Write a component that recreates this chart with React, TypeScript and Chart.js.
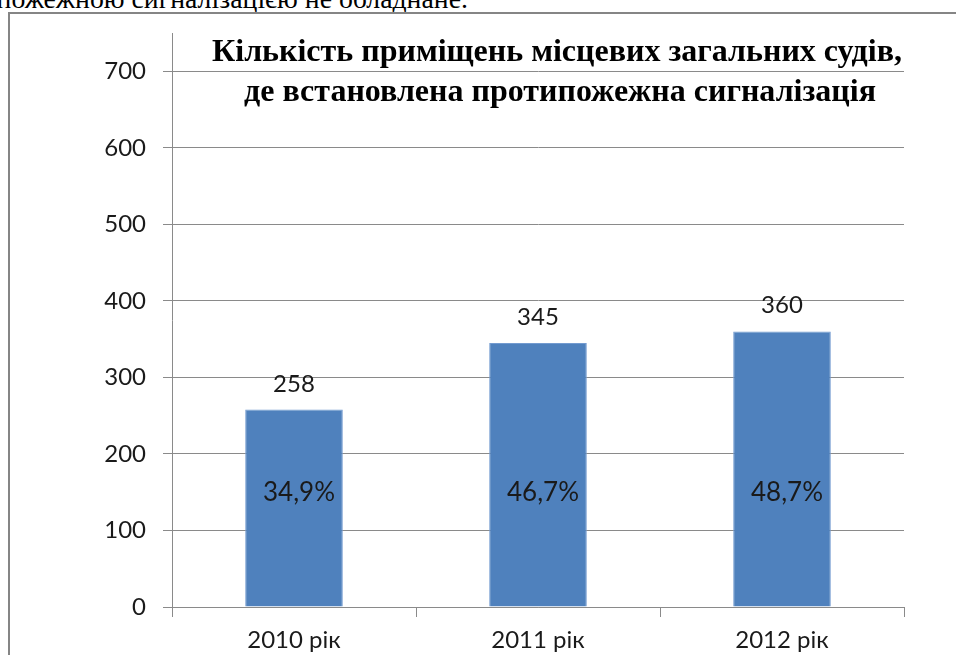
import React, { useEffect, useRef } from 'react';
import { Chart, registerables } from 'chart.js';

Chart.register(...registerables);

const categories = ['2010 рік', '2011 рік', '2012 рік'];
const counts = [258, 345, 360];
const shares = ['34,9%', '46,7%', '48,7%'];
const titleLines = [
  'Кількість приміщень місцевих загальних судів,',
  'де встановлена протипожежна сигналізація',
];
const pageText = 'пожежною сигналізацією не обладнане.';
const yMin = 0;
const yMax = 750;
const yStep = 100;
const shareLabelAt = 139;

const BAR_COLOR = '#4F81BD';
const GRID_COLOR = '#8a8a8a';
const TEXT_COLOR = '#1a1a1a';

const labelPlugin = {
  id: 'customLabels',
  afterDatasetsDraw(chart: any) {
    const { ctx } = chart;
    const meta = chart.getDatasetMeta(0);
    const yScale = chart.scales.y;
    ctx.save();
    ctx.fillStyle = TEXT_COLOR;
    ctx.textAlign = 'center';
    ctx.textBaseline = 'alphabetic';
    meta.data.forEach((bar: any, i: number) => {
      ctx.font = '24px Lato';
      ctx.fillText(String(counts[i]), bar.x, bar.y - 18);
      ctx.font = '26px Lato';
      ctx.fillText(shares[i], bar.x + 5, yScale.getPixelForValue(shareLabelAt));
    });
    ctx.fillStyle = '#000';
    ctx.font = 'bold 32px "Liberation Serif"';
    ctx.fillText(titleLines[0], 557, 61);
    ctx.fillText(titleLines[1], 560, 101);
    ctx.restore();
  },
};

export default function App() {
  const ref = useRef<HTMLCanvasElement>(null);

  useEffect(() => {
    if (!ref.current) return;
    const chart = new Chart(ref.current, {
      type: 'bar',
      data: {
        labels: categories,
        datasets: [
          {
            data: counts,
            backgroundColor: BAR_COLOR,
            borderColor: '#739bd0',
            borderWidth: 1,
            categoryPercentage: 1,
            barPercentage: 0.4,
          },
        ],
      },
      options: {
        animation: false,
        responsive: false,
        maintainAspectRatio: false,
        layout: { padding: { left: 8, right: 52, top: 33, bottom: 0 } },
        plugins: {
          legend: { display: false },
          tooltip: { enabled: false },
          title: { display: false },
        },
        scales: {
          x: {
            grid: {
              display: true,
              offset: true,
              drawOnChartArea: false,
              drawTicks: true,
              tickLength: 10,
              color: GRID_COLOR,
            },
            border: { display: true, color: GRID_COLOR, width: 1 },
            ticks: {
              color: TEXT_COLOR,
              font: { family: 'Lato', size: 24 },
              padding: 9,
            },
            afterFit: (s: any) => {
              s.height = 48;
            },
          },
          y: {
            min: yMin,
            max: yMax,
            grid: {
              color: GRID_COLOR,
              tickLength: 9,
              drawTicks: true,
            },
            border: { display: true, color: GRID_COLOR, width: 1 },
            ticks: {
              stepSize: yStep,
              color: TEXT_COLOR,
              font: { family: 'Lato', size: 24 },
              padding: 17,
            },
            afterBuildTicks: (s: any) => {
              s.ticks = s.ticks.filter((t: any) => t.value % yStep === 0);
            },
            afterFit: (s: any) => {
              s.width = 164;
            },
          },
        },
      },
      plugins: [labelPlugin],
    });
    return () => chart.destroy();
  }, []);

  return (
    <div style={{ position: 'fixed', left: 0, top: 0, width: 956, height: 655, overflow: 'hidden', background: '#fff' }}>
      <div
        style={{
          position: 'absolute',
          right: 488,
          top: -15,
          fontFamily: '"Liberation Serif", serif',
          fontSize: 27.8,
          lineHeight: 1,
          whiteSpace: 'nowrap',
          color: '#000',
        }}
      >
        {pageText}
      </div>
      <canvas ref={ref} width={956} height={655} style={{ position: 'absolute', left: 0, top: 0 }} />
      <div
        style={{
          position: 'absolute',
          left: 8,
          top: 12,
          width: 1000,
          height: 700,
          borderLeft: '2px solid #858585',
          borderTop: '2px solid #858585',
          pointerEvents: 'none',
        }}
      />
    </div>
  );
}
